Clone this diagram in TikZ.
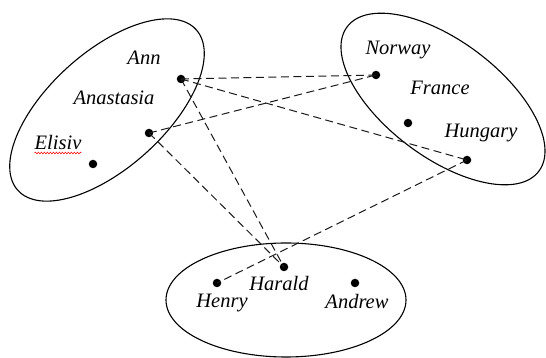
\documentclass[tikz,border=0pt]{standalone}
\usepackage{fontspec}
\setmainfont{Liberation Serif}
\usetikzlibrary{decorations.pathmorphing}
\begin{document}
\begin{tikzpicture}[x=1pt,y=1pt,
  dot/.style={circle,fill=black,inner sep=0pt,minimum size=8.5pt},
  lbl/.style={font=\fontsize{20.5}{24}\selectfont\itshape,anchor=base,inner sep=0pt},
  link/.style={dash pattern=on 8pt off 4.5pt,line width=1pt,color=black!90},
  setline/.style={line width=1.1pt}]
\useasboundingbox (0,0) rectangle (546,358);
% sets
\draw[setline] (107,248) ellipse [x radius=120, y radius=58, rotate=42];
\draw[setline] (443,259) ellipse [x radius=120, y radius=58, rotate=-37];
\draw[setline] (286,58) ellipse [x radius=120, y radius=57];
% elements
\node[dot] (ann) at (181,279) {};
\node[dot] (anastasia) at (149,225) {};
\node[dot] (elisiv) at (93,194) {};
\node[dot] (norway) at (376,283) {};
\node[dot] (france) at (408,235) {};
\node[dot] (hungary) at (467,198) {};
\node[dot] (henry) at (217,75) {};
\node[dot] (harald) at (284,91) {};
\node[dot] (andrew) at (355,75) {};
% labels
\node[lbl] (lann) at (144,293) {Ann};
\node[lbl] (lanastasia) at (114,253) {Anastasia};
\node[lbl] (lelisiv) at (58,208) {Elisiv};
\node[lbl] (lnorway) at (398,303) {Norway};
\node[lbl] (lfrance) at (440,263) {France};
\node[lbl] (lhungary) at (481,220) {Hungary};
\node[lbl] (lhenry) at (222,50) {Henry};
\node[lbl] (lharald) at (279,67) {Harald};
\node[lbl] (landrew) at (357,49) {Andrew};
% spell-check underline
\draw[red,line width=0.5pt,decorate,decoration={snake,amplitude=0.9pt,segment length=3pt}]
  ([yshift=-3pt]lelisiv.base west) -- ([yshift=-3pt]lelisiv.base east);
% links
\draw[link] (ann.center) -- (norway.center);
\draw[link] (ann.center) -- (hungary.center);
\draw[link] (ann.center) -- (harald.center);
\draw[link] (anastasia.center) -- (norway.center);
\draw[link] (anastasia.center) -- (harald.center);
\draw[link] (hungary.center) -- (henry.center);
\end{tikzpicture}
\end{document}
